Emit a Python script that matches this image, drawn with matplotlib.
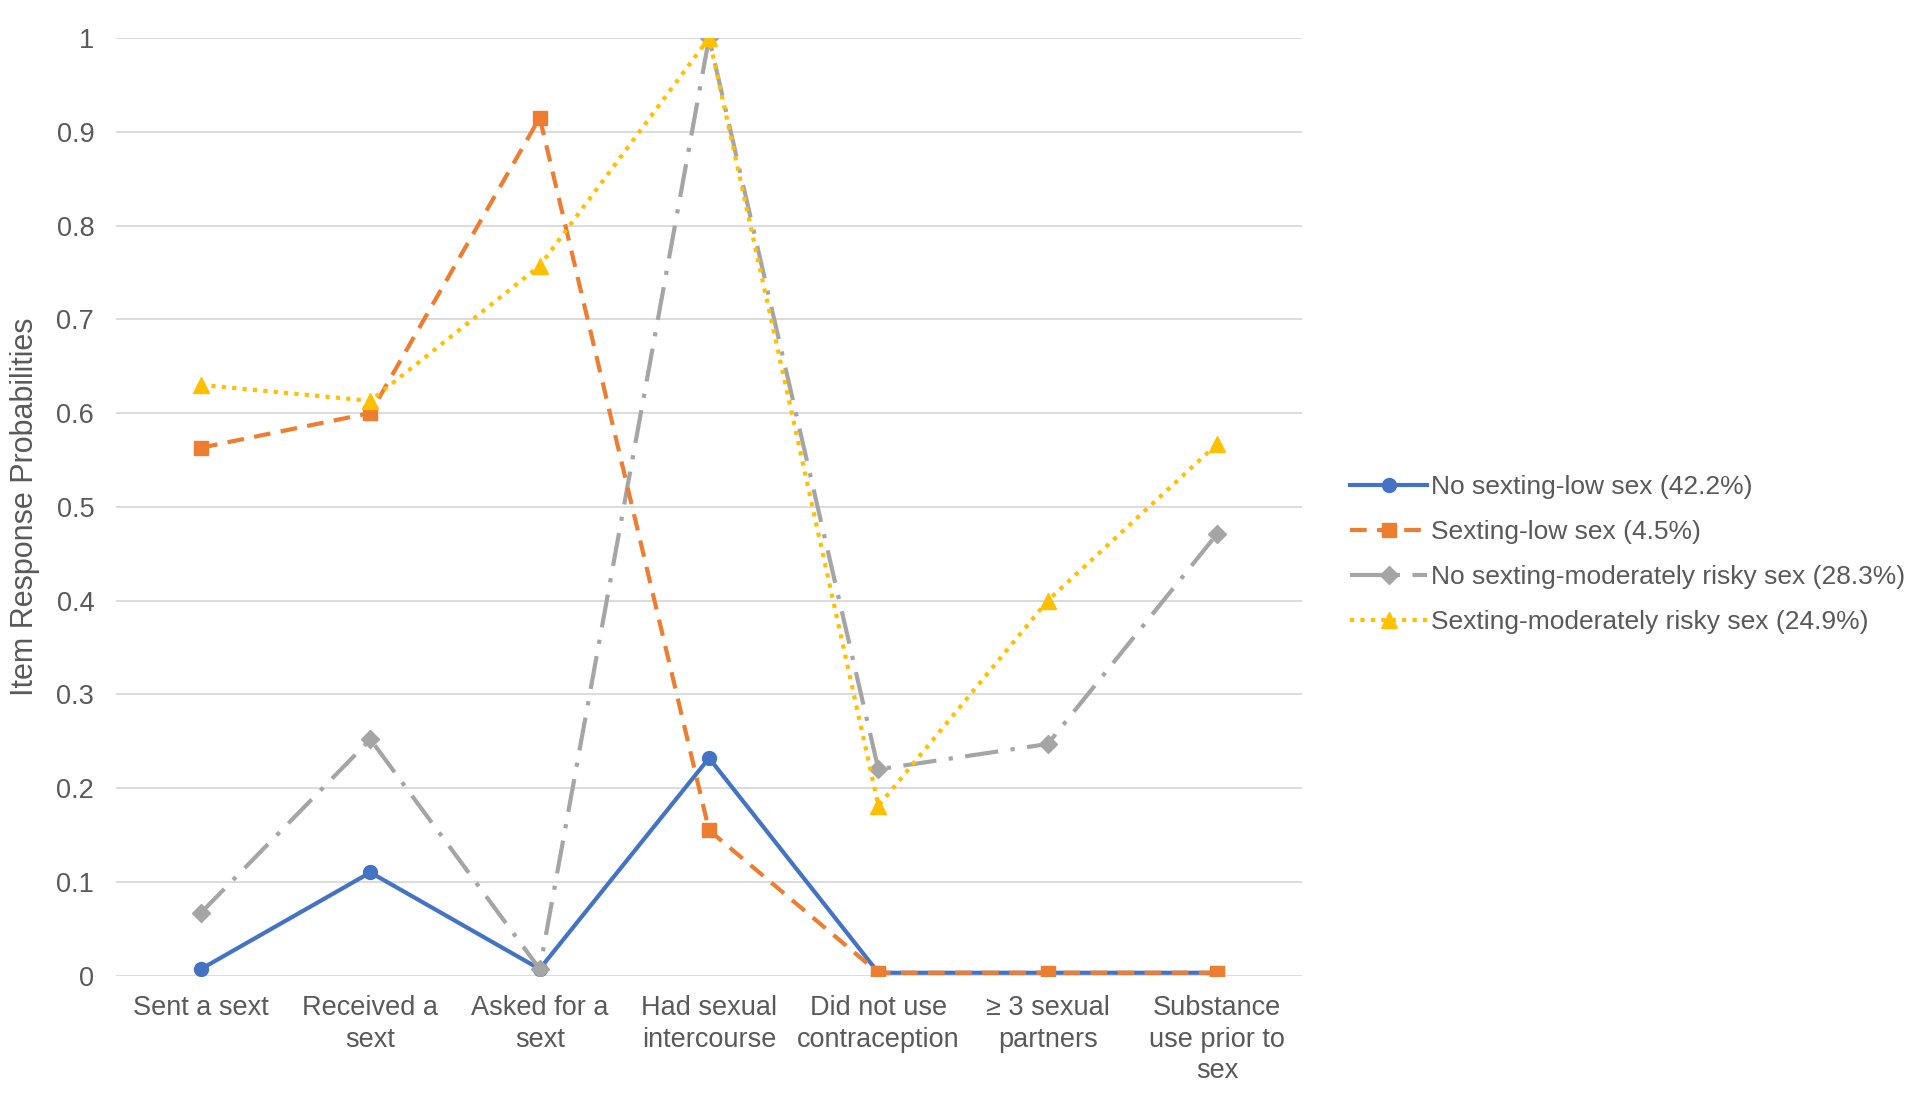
import matplotlib
matplotlib.use("Agg")
import matplotlib.pyplot as plt
import numpy as np

categories = ["Sent a sext", "Received a\nsext", "Asked for a\nsext", "Had sexual\nintercourse",
              "Did not use\ncontraception", "\u2265 3 sexual\npartners", "Substance\nuse prior to\nsex"]
no_sext_low = [0.007, 0.110, 0.007, 0.232, 0.003, 0.003, 0.003]
sext_low = [0.563, 0.600, 0.915, 0.155, 0.003, 0.003, 0.003]
no_sext_mod = [0.067, 0.252, 0.007, 1.000, 0.220, 0.247, 0.471]
sext_mod = [0.630, 0.613, 0.757, 1.000, 0.181, 0.400, 0.567]
series_labels = ["No sexting-low sex (42.2%)", "Sexting-low sex (4.5%)",
                 "No sexting-moderately risky sex (28.3%)", "Sexting-moderately risky sex (24.9%)"]
yticks = [0, 0.1, 0.2, 0.3, 0.4, 0.5, 0.6, 0.7, 0.8, 0.9, 1]
ytick_labels = ["0", "0.1", "0.2", "0.3", "0.4", "0.5", "0.6", "0.7", "0.8", "0.9", "1"]

plt.rcParams['font.family'] = ['Liberation Sans', 'DejaVu Sans']
txt = '#595959'

fig = plt.figure(figsize=(19.2, 10.98), dpi=100)
ax = fig.add_axes([0.0606, 0.1115, 0.6174, 0.8539])
x = np.arange(len(categories))

ax.plot(x, no_sext_low, color='#4472C4', lw=3, marker='o', ms=10, label=series_labels[0], zorder=3)
ax.plot(x, sext_low, color='#ED7D31', lw=3, ls=(0, (4, 2.5)), marker='s', ms=10, label=series_labels[1], zorder=4)
ax.plot(x, no_sext_mod, color='#A5A5A5', lw=3, ls=(0, (8, 3, 1, 3)), marker='D', ms=9, label=series_labels[2], zorder=3)
ax.plot(x, sext_mod, color='#FFC000', lw=3, ls=(0, (1, 1.5)), marker='^', ms=11, label=series_labels[3], zorder=5)

ax.set_xlim(-0.5, len(categories) - 0.5)
ax.set_ylim(0, 1)
ax.set_yticks(yticks)
ax.set_yticklabels(ytick_labels)
ax.set_xticks(x)
ax.set_xticklabels(categories, fontsize=19.5, color=txt, linespacing=1.28)
ax.tick_params(axis='y', labelsize=19.5, labelcolor=txt, length=0, pad=16)
ax.tick_params(axis='x', length=0, pad=14)
ax.grid(axis='y', color='#D9D9D9', lw=1.3)
ax.set_axisbelow(True)
for s in ax.spines.values():
    s.set_visible(False)
ax.set_ylabel("Item Response Probabilities", fontsize=22, color=txt)
ax.yaxis.set_label_coords(-0.064, 0.5)

leg = fig.legend(loc='center left', bbox_to_anchor=(0.691, 0.495), frameon=False,
                 fontsize=19, labelcolor=txt, handlelength=2.9, handletextpad=0.15,
                 labelspacing=0.8)

fig.savefig("out.png", dpi=100)
